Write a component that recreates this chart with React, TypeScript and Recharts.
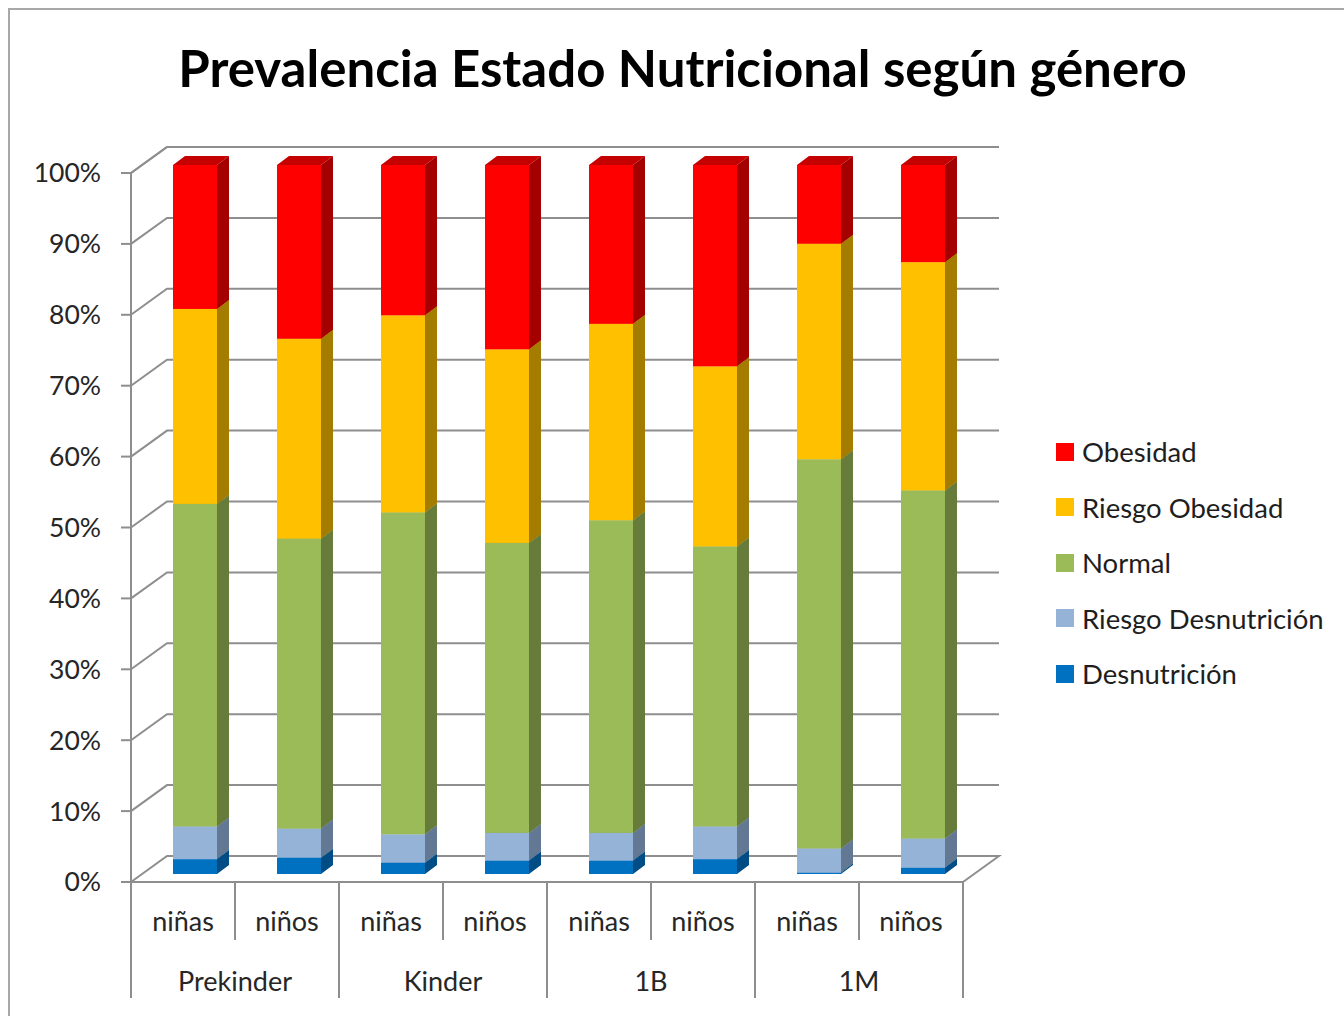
import React from 'react';
import { BarChart, Bar, XAxis, YAxis, CartesianGrid, Legend } from 'recharts';

// categories (x axis, two levels)
const sexes = ['niñas', 'niños', 'niñas', 'niños', 'niñas', 'niños', 'niñas', 'niños'];
const groups = ['Prekinder', 'Prekinder', 'Kinder', 'Kinder', '1B', '1B', '1M', '1M'];

// series values, % of each column
const desnutricion = [2.1, 2.3, 1.6, 1.9, 1.9, 2.1, 0.2, 0.9];
const riesgoDesnutricion = [4.6, 4.1, 4.0, 3.9, 3.9, 4.6, 3.4, 4.1];
const normal = [45.5, 40.9, 45.4, 40.9, 44.1, 39.5, 54.9, 49.1];
const riesgoObesidad = [27.5, 28.2, 27.8, 27.3, 27.7, 25.4, 30.4, 32.2];
const obesidad = [20.3, 24.5, 21.2, 26.0, 22.4, 28.4, 11.1, 13.7];

const yTicks = [0, 10, 20, 30, 40, 50, 60, 70, 80, 90, 100];

const data = sexes.map((s, i) => ({
  sex: s,
  group: groups[i],
  desnutricion: desnutricion[i],
  riesgoDesnutricion: riesgoDesnutricion[i],
  normal: normal[i],
  riesgoObesidad: riesgoObesidad[i],
  obesidad: obesidad[i],
}));

const series = [
  { key: 'desnutricion', name: 'Desnutrición', front: '#0070C0', side: '#004D85', top: '#005A9C' },
  { key: 'riesgoDesnutricion', name: 'Riesgo Desnutrición', front: '#95B3D7', side: '#637993', top: '#7890AE' },
  { key: 'normal', name: 'Normal', front: '#9BBB59', side: '#677B3A', top: '#7E9A47' },
  { key: 'riesgoObesidad', name: 'Riesgo Obesidad', front: '#FFC000', side: '#A47C00', top: '#CC9A00' },
  { key: 'obesidad', name: 'Obesidad', front: '#FF0000', side: '#A50000', top: '#C40000' },
];

const FONT = 'Lato, "Open Sans", sans-serif';
const TEXT = '#262626';
const GRID = '#8e8e8e';

// 3d look: back wall offset and bar depth
const WALL_DX = 36;
const WALL_DY = 26;
const BAR_SHIFT_X = 12;
const BAR_SHIFT_Y = 8;
const BAR_DX = 12;
const BAR_DY = 9;

const prism = (side: string, top: string) => (p: any) => {
  const { x, y, width, height, fill } = p;
  if (width == null || height == null) return <g />;
  const X = x + BAR_SHIFT_X;
  const Y = y - BAR_SHIFT_Y;
  const R = X + width;
  const B = Y + height;
  return (
    <g>
      <polygon points={`${X},${Y} ${X + BAR_DX},${Y - BAR_DY} ${R + BAR_DX},${Y - BAR_DY} ${R},${Y}`} fill={top} />
      <polygon points={`${R},${Y} ${R + BAR_DX},${Y - BAR_DY} ${R + BAR_DX},${B - BAR_DY} ${R},${B}`} fill={side} />
      <rect x={X} y={Y} width={width} height={height} fill={fill} />
    </g>
  );
};

const PLOT_BOTTOM = 882;

const gridLine = (p: any) => {
  const { x1, x2, y1 } = p;
  const floor = Math.abs(y1 - PLOT_BOTTOM) < 1;
  let d = `M${x1},${y1} L${x1 + WALL_DX},${y1 - WALL_DY} L${x2 + WALL_DX},${y1 - WALL_DY}`;
  if (floor) d += ` L${x2},${y1}`;
  return <path key={`g-${y1}`} d={d} fill="none" stroke={GRID} strokeWidth={2} />;
};

const CategoryTick = (props: any) => {
  const { x, y, payload, index } = props;
  const half = payload && payload.offset ? payload.offset : 52;
  const left = x - half;
  const groupStart = index % 2 === 0;
  return (
    <g>
      <line x1={left} y1={y} x2={left} y2={y + (groupStart ? 116 : 58)} stroke={GRID} strokeWidth={2} />
      {index === sexes.length - 1 && (
        <line x1={x + half} y1={y} x2={x + half} y2={y + 116} stroke={GRID} strokeWidth={2} />
      )}
      <text x={x} y={y + 38} textAnchor="middle" dominantBaseline="central" fontSize={27} fill={TEXT} fontFamily={FONT}>
        {payload.value}
      </text>
      {groupStart && (
        <text x={x + half} y={y + 98} textAnchor="middle" dominantBaseline="central" fontSize={27} fill={TEXT} fontFamily={FONT}>
          {groups[index]}
        </text>
      )}
    </g>
  );
};

// legend lists series top-down, as stacked
const renderLegend = () => (
  <div style={{ fontFamily: FONT }}>
    {[...series].reverse().map((s) => (
      <div key={s.key} style={{ display: 'flex', alignItems: 'center', height: 55.5 }}>
        <span style={{ width: 18, height: 18, background: s.front, display: 'inline-block', marginRight: 8 }} />
        <span style={{ fontSize: 27.5, color: '#1e1e1e' }}>{s.name}</span>
      </div>
    ))}
  </div>
);

export default function App() {
  return (
    <div style={{ position: 'fixed', left: 0, top: 0, width: 1344, height: 1016, background: '#fff', overflow: 'hidden' }}>
      <div
        style={{
          position: 'absolute', left: 8, top: 8, width: 1400, height: 1100,
          borderLeft: '2px solid #a8a8a8', borderTop: '2px solid #a8a8a8',
        }}
      />
      <div
        style={{
          position: 'absolute', left: 0, top: 38, width: 1365, textAlign: 'center',
          fontFamily: FONT, fontWeight: 700, fontSize: 51, color: '#000', lineHeight: '60px',
        }}
      >
        Prevalencia Estado Nutricional según género
      </div>
      <BarChart
        width={1344}
        height={1016}
        data={data}
        margin={{ top: 173, right: 381, bottom: 14, left: 0 }}
        barSize={44}
        style={{ position: 'absolute', left: 0, top: 0 }}
      >
        <CartesianGrid vertical={false} horizontal={gridLine} />
        <XAxis
          dataKey="sex"
          height={120}
          tickSize={0}
          tickMargin={0}
          tickLine={false}
          axisLine={{ stroke: GRID, strokeWidth: 2 }}
          tick={<CategoryTick />}
          interval={0}
        />
        <YAxis
          width={131}
          domain={[0, 100]}
          ticks={yTicks}
          tickFormatter={(v: number) => `${v}%`}
          tickSize={10}
          tickMargin={20}
          axisLine={{ stroke: GRID, strokeWidth: 2 }}
          tickLine={{ stroke: GRID, strokeWidth: 2 }}
          tick={{ fontSize: 26.5, fill: TEXT, fontFamily: FONT }}
          interval={0}
        />
        {series.map((s) => (
          <Bar
            key={s.key}
            dataKey={s.key}
            name={s.name}
            stackId="a"
            fill={s.front}
            shape={prism(s.side, s.top)}
            isAnimationActive={false}
          />
        ))}
        <Legend
          layout="vertical"
          align="center"
          verticalAlign="middle"
          content={renderLegend}
          wrapperStyle={{ left: 1056, top: 424, width: 288 }}
        />
      </BarChart>
    </div>
  );
}
